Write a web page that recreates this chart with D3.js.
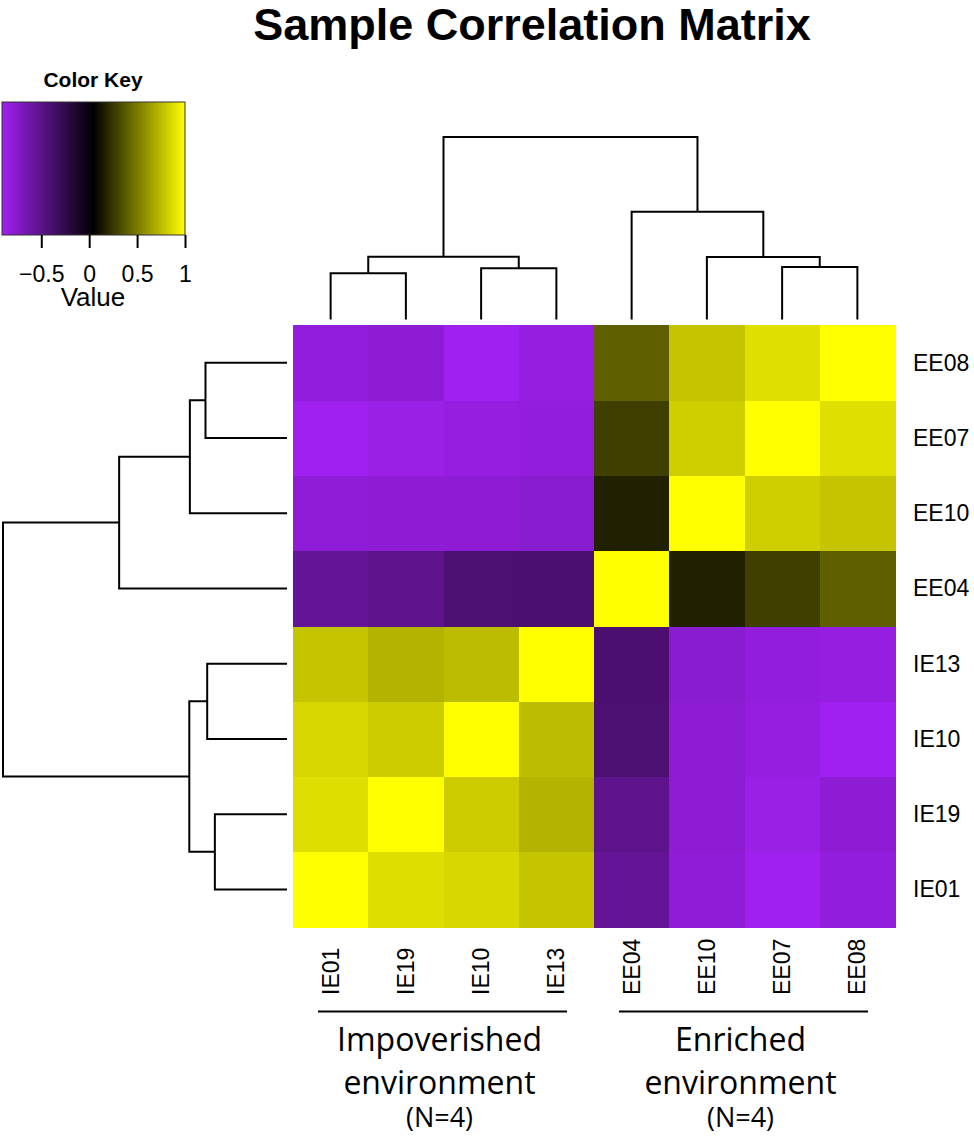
<!DOCTYPE html>
<html lang="en">

<head>
     <meta charset="UTF-8">
     <title>Sample Correlation Matrix</title>
     <script src="https://d3js.org/d3.v7.min.js"></script>
     <style>
          body {
               margin: 0;
               padding: 0;
               background: white;
          }
     </style>
</head>

<body>
     <script>
          let width = 974;
          let height = 1136;

          // samples in column order (left to right); rows use the reverse order (top to bottom)
          const colLabels = ["IE01", "IE19", "IE10", "IE13", "EE04", "EE10", "EE07", "EE08"];
          const rowLabels = ["EE08", "EE07", "EE10", "EE04", "IE13", "IE10", "IE19", "IE01"];

          // correlation values, rows and columns both in colLabels order
          const corrIE01 = [1, 0.875, 0.855, 0.78, -0.55, -0.81, -0.91, -0.83];
          const corrIE19 = [0.875, 1, 0.81, 0.715, -0.51, -0.80, -0.875, -0.80];
          const corrIE10 = [0.855, 0.81, 1, 0.75, -0.41, -0.80, -0.85, -0.91];
          const corrIE13 = [0.78, 0.715, 0.75, 1, -0.40, -0.78, -0.83, -0.85];
          const corrEE04 = [-0.55, -0.51, -0.41, -0.40, 1, 0.17, 0.28, 0.40];
          const corrEE10 = [-0.81, -0.80, -0.80, -0.78, 0.17, 1, 0.82, 0.78];
          const corrEE07 = [-0.91, -0.875, -0.85, -0.83, 0.28, 0.82, 1, 0.88];
          const corrEE08 = [-0.83, -0.80, -0.91, -0.85, 0.40, 0.78, 0.88, 1];
          const corrRows = [corrIE01, corrIE19, corrIE10, corrIE13, corrEE04, corrEE10, corrEE07, corrEE08];

          // hierarchical clustering: [id, left, right, height]
          const merges = [
               ["m1", "IE01", "IE19", 0.254],
               ["m2", "IE10", "IE13", 0.281],
               ["m3", "EE07", "EE08", 0.287],
               ["m4", "EE10", "m3", 0.342],
               ["m5", "m1", "m2", 0.344],
               ["m6", "EE04", "m4", 0.591],
               ["m7", "m5", "m6", 1.0]
          ];

          const keyTicks = [-0.5, 0, 0.5, 1];
          const groups = [
               { lines: ["Impoverished", "environment", "(N=4)"], from: "IE01", to: "IE13" },
               { lines: ["Enriched", "environment", "(N=4)"], from: "EE04", to: "EE08" }
          ];

          let cells = [];
          colLabels.forEach((r, i) => {
               colLabels.forEach((c, j) => {
                    cells.push({ row: r, col: c, value: corrRows[i][j] });
               });
          });

          let vmin = d3.min(cells, d => d.value);
          let vmax = d3.max(cells, d => d.value);
          let color = d3.scaleLinear()
               .domain([vmin, (vmin + vmax) / 2, vmax])
               .range(["#A020F0", "#000000", "#FFFF00"]);

          let svg = d3.select("body")
               .append("svg")
               .attr("width", width)
               .attr("height", height)
               .style("font-family", "'Liberation Sans', Arial, sans-serif")

          let x = d3.scaleBand().domain(colLabels).range([293, 895]);
          let y = d3.scaleBand().domain(rowLabels).range([325, 927]);

          // heatmap
          svg.append("g")
               .selectAll("rect")
               .data(cells)
               .join("rect")
               .attr("x", d => x(d.col))
               .attr("y", d => y(d.row))
               .attr("width", x.bandwidth() + 0.5)
               .attr("height", y.bandwidth() + 0.5)
               .attr("fill", d => color(d.value))
               .attr("shape-rendering", "crispEdges")

          // build the tree from the merge list
          function buildTree() {
               let nodes = {};
               merges.forEach(([id, a, b, h]) => {
                    let ch = [a, b].map(k => nodes[k] || { name: k, h: 0 });
                    nodes[id] = { name: id, h: h, children: ch };
               });
               return d3.hierarchy(nodes[merges[merges.length - 1][0]]);
          }

          // top (column) dendrogram
          let colTree = buildTree();
          colTree.eachAfter(n => {
               n.p = n.children ? (n.children[0].p + n.children[1].p) / 2 : x(n.data.name) + x.bandwidth() / 2;
          });
          let hTop = d3.scaleLinear().domain([0, 1]).range([319.5, 137]);
          svg.append("g")
               .selectAll("path")
               .data(colTree.descendants().filter(n => n.children))
               .join("path")
               .attr("d", n => {
                    let [a, b] = n.children;
                    return "M" + a.p + "," + hTop(a.data.h) + "V" + hTop(n.data.h) +
                         "H" + b.p + "V" + hTop(b.data.h);
               })
               .attr("fill", "none")
               .attr("stroke", "black")
               .attr("stroke-width", 2)

          // left (row) dendrogram
          let rowTree = buildTree();
          rowTree.eachAfter(n => {
               n.p = n.children ? (n.children[0].p + n.children[1].p) / 2 : y(n.data.name) + y.bandwidth() / 2;
          });
          let hLeft = d3.scaleLinear().domain([0, 1]).range([287, 3]);
          svg.append("g")
               .selectAll("path")
               .data(rowTree.descendants().filter(n => n.children))
               .join("path")
               .attr("d", n => {
                    let [a, b] = n.children;
                    return "M" + hLeft(a.data.h) + "," + a.p + "H" + hLeft(n.data.h) +
                         "V" + b.p + "H" + hLeft(b.data.h);
               })
               .attr("fill", "none")
               .attr("stroke", "black")
               .attr("stroke-width", 2)

          // row labels
          svg.append("g")
               .selectAll("text")
               .data(rowLabels)
               .join("text")
               .attr("x", 913)
               .attr("y", d => y(d) + y.bandwidth() / 2)
               .attr("dy", "0.35em")
               .attr("font-size", 23)
               .text(d => d)

          // column labels
          svg.append("g")
               .selectAll("text")
               .data(colLabels)
               .join("text")
               .attr("transform", d => "translate(" + (x(d) + x.bandwidth() / 2) + ",995) rotate(-90)")
               .attr("dy", "0.35em")
               .attr("font-size", 23)
               .text(d => d)

          // group brackets and captions
          groups.forEach(g => {
               let x1 = x(g.from), x2 = x(g.to) + x.bandwidth();
               let cx = (x1 + x2) / 2 - 4;
               svg.append("line")
                    .attr("x1", x1 + 25)
                    .attr("x2", x2 - 27)
                    .attr("y1", 1011.5)
                    .attr("y2", 1011.5)
                    .attr("stroke", "black")
                    .attr("stroke-width", 2)
               let t = svg.append("text")
                    .attr("text-anchor", "middle")
                    .style("font-family", "'Open Sans', sans-serif")
               t.append("tspan").attr("x", cx).attr("y", 1051).attr("font-size", 32).text(g.lines[0])
               t.append("tspan").attr("x", cx).attr("y", 1094).attr("font-size", 32).text(g.lines[1])
               t.append("tspan").attr("x", cx).attr("y", 1127).attr("font-size", 27).text(g.lines[2])
          });

          // title
          svg.append("text")
               .attr("x", 532)
               .attr("y", 40)
               .attr("text-anchor", "middle")
               .attr("font-size", 45)
               .attr("font-weight", "bold")
               .text("Sample Correlation Matrix")

          // color key
          let kx = d3.scaleLinear().domain([vmin, vmax]).range([2, 185]);
          let grad = svg.append("defs").append("linearGradient")
               .attr("id", "keygrad")
          color.domain().forEach(v => {
               grad.append("stop")
                    .attr("offset", (kx(v) - 2) / 183)
                    .attr("stop-color", color(v))
          });
          svg.append("rect")
               .attr("x", 2)
               .attr("y", 102)
               .attr("width", 183)
               .attr("height", 133)
               .attr("fill", "url(#keygrad)")
               .attr("stroke", "#333")
               .attr("stroke-width", 1)

          let keyAxis = svg.append("g")
               .attr("transform", "translate(0,235)")
               .call(d3.axisBottom(kx).tickValues(keyTicks).tickSize(13).tickFormat(d3.format("~g")))
          keyAxis.select(".domain").remove()
          keyAxis.selectAll(".tick line").attr("stroke-width", 2)
          keyAxis.selectAll(".tick text")
               .attr("y", 47)
               .attr("dy", 0)
               .attr("font-size", 23)
               .attr("font-family", "'Liberation Sans', Arial, sans-serif")
               .attr("fill", "black")

          svg.append("text")
               .attr("x", 93)
               .attr("y", 87)
               .attr("text-anchor", "middle")
               .attr("font-size", 21)
               .attr("font-weight", "bold")
               .text("Color Key")

          svg.append("text")
               .attr("x", 93)
               .attr("y", 306)
               .attr("text-anchor", "middle")
               .attr("font-size", 26)
               .text("Value")
     </script>
</body>

</html>
